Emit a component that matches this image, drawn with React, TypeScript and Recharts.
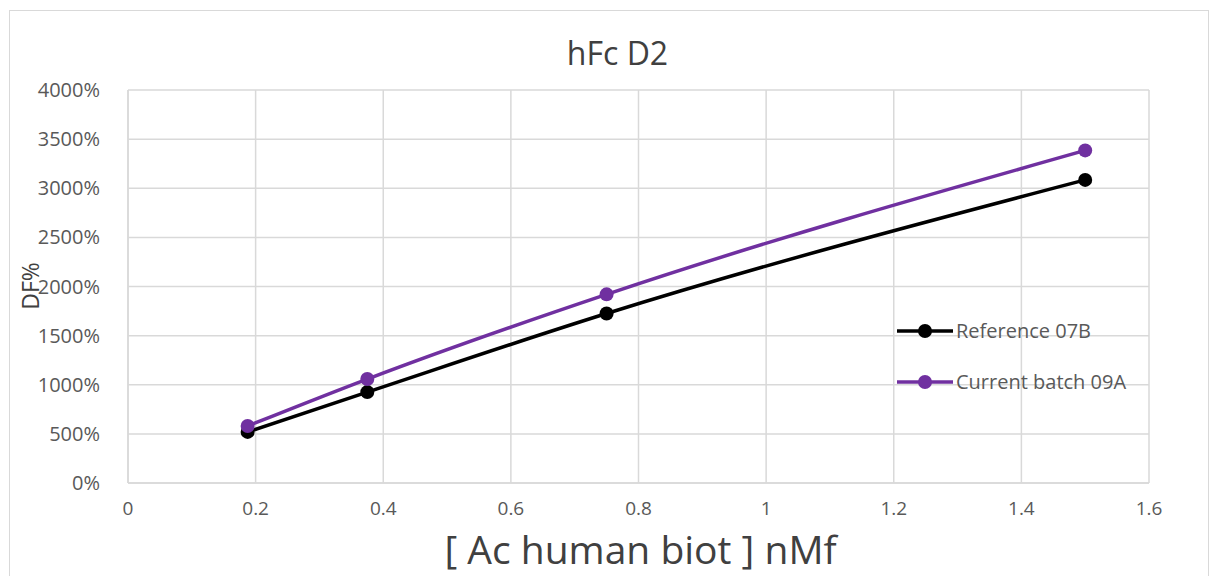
// hFc D2 dose-response

import React from 'react';
import {
  LineChart,
  Line,
  XAxis,
  YAxis,
  CartesianGrid,
} from 'recharts';

const CONC = [0.1875, 0.375, 0.75, 1.5];
const REFERENCE_07B = [520, 925, 1725, 3085];
const CURRENT_09A = [580, 1058, 1920, 3385];
const X_TICKS = [0, 0.2, 0.4, 0.6, 0.8, 1, 1.2, 1.4, 1.6];
const Y_TICKS = [0, 500, 1000, 1500, 2000, 2500, 3000, 3500, 4000];

const SERIES = [
  { key: 'ref', name: 'Reference 07B', color: '#000000' },
  { key: 'cur', name: 'Current batch 09A', color: '#7030A0' },
];

const FONT = '"Open Sans", sans-serif';

const chartData = CONC.map((c, i) => ({
  conc: c,
  ref: REFERENCE_07B[i],
  cur: CURRENT_09A[i],
}));

function LegendBox() {
  return (
    <div
      style={{
        position: 'absolute',
        left: 896,
        top: 305,
        fontFamily: FONT,
        fontSize: 20,
        color: '#595959',
      }}
    >
      {SERIES.map((s) => (
        <div
          key={s.key}
          style={{ display: 'flex', alignItems: 'center', height: 51 }}
        >
          <svg width={58} height={18}>
            <line x1={1} y1={9} x2={57} y2={9} stroke={s.color} strokeWidth={3.5} />
            <circle cx={29} cy={9} r={7} fill={s.color} />
          </svg>
          <span style={{ marginLeft: 2 }}>{s.name}</span>
        </div>
      ))}
    </div>
  );
}

export default function App() {
  return (
    <div
      style={{
        position: 'absolute',
        left: 0,
        top: 0,
        width: 1215,
        height: 576,
        background: '#fff',
        overflow: 'hidden',
      }}
    >
      <div
        style={{
          position: 'absolute',
          left: 9,
          top: 10,
          width: 1198,
          height: 600,
          border: '1.5px solid #d9d9d9',
        }}
      />
      <LineChart
        width={1215}
        height={576}
        data={chartData}
        margin={{ top: 90, right: 66, bottom: 0, left: 0 }}
        style={{ position: 'absolute', left: 0, top: 0 }}
      >
        <CartesianGrid stroke="#d9d9d9" strokeWidth={1.5} />
        <XAxis
          dataKey="conc"
          type="number"
          domain={[0, 1.6]}
          ticks={X_TICKS}
          tickFormatter={(v) => String(v)}
          axisLine={{ stroke: '#d9d9d9', strokeWidth: 1.5 }}
          tickLine={false}
          tickMargin={13}
          height={93}
          tick={{ fill: '#595959', fontSize: 19, fontFamily: FONT }}
        />
        <YAxis
          type="number"
          domain={[0, 4000]}
          ticks={Y_TICKS}
          tickFormatter={(v) => `${v}%`}
          axisLine={{ stroke: '#d9d9d9', strokeWidth: 1.5 }}
          tickLine={false}
          tickMargin={22}
          width={128}
          tick={{ fill: '#595959', fontSize: 20, fontFamily: FONT }}
        />
        {SERIES.map((s) => (
          <Line
            key={s.key}
            dataKey={s.key}
            name={s.name}
            type="monotone"
            stroke={s.color}
            strokeWidth={3.5}
            dot={{ r: 7, fill: s.color, stroke: s.color, strokeWidth: 0 }}
            activeDot={false}
            isAnimationActive={false}
          />
        ))}
      </LineChart>
      <LegendBox />
      <div
        style={{
          position: 'absolute',
          top: 33,
          width: 1215,
          left: 0,
          textAlign: 'center',
          fontFamily: FONT,
          fontSize: 32,
          lineHeight: '40px',
          color: '#404040',
        }}
      >
        <span style={{ marginLeft: 20 }}>hFc D2</span>
      </div>
      <div
        style={{
          position: 'absolute',
          left: 30,
          top: 286,
          transform: 'translate(-50%, -50%) rotate(-90deg)',
          fontFamily: FONT,
          fontSize: 23,
          color: '#404040',
        }}
      >
        DF%
      </div>
      <div
        style={{
          position: 'absolute',
          top: 535,
          left: 0,
          width: 1215,
          textAlign: 'center',
          fontFamily: FONT,
          fontSize: 39,
          lineHeight: '28px',
          color: '#404040',
        }}
      >
        <span style={{ marginLeft: 66 }}>[ Ac human biot ] nMf</span>
      </div>
    </div>
  );
}
